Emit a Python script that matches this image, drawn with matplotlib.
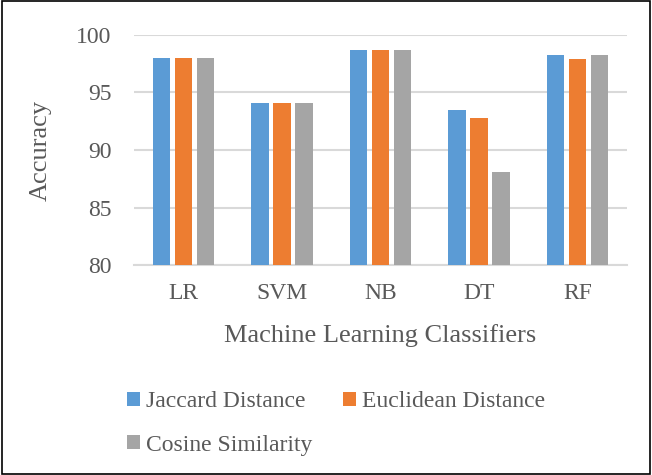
import matplotlib
matplotlib.use("Agg")

import numpy as np
import matplotlib.pyplot as plt
from matplotlib.patches import Rectangle

categorias = ["LR", "SVM", "NB", "DT", "RF"]
series = ["Jaccard Distance", "Euclidean Distance", "Cosine Similarity"]
jaccard = [98.0, 94.1, 98.7, 93.5, 98.2]
euclidean = [98.0, 94.1, 98.7, 92.8, 97.9]
cosine = [98.0, 94.1, 98.7, 88.1, 98.2]
colores = ["#5b9bd5", "#ed7d31", "#a5a5a5"]

plt.rcParams["font.family"] = ["Liberation Serif", "DejaVu Serif"]
gris = "#595959"

fig = plt.figure(figsize=(6.52, 4.75), dpi=100)
ax = fig.add_axes([134 / 652, 1 - 265.3 / 475, 493 / 652, 230.6 / 475])

x = np.arange(len(categorias))
ancho = 0.175
paso = 0.223
barras = []
for i, (vals, nombre) in enumerate(zip([jaccard, euclidean, cosine], series)):
    b = ax.bar(x + (i - 1) * paso, vals, ancho, color=colores[i], label=nombre, zorder=3)
    barras.append(b)

ax.set_xlim(-0.5, len(categorias) - 0.5)
ax.set_ylim(80, 100)
ax.set_yticks([80, 85, 90, 95, 100])
ax.set_xticks(x)
ax.set_xticklabels(categorias)
ax.tick_params(axis="both", length=0, labelsize=17, labelcolor=gris)
ax.tick_params(axis="x", pad=13)
ax.tick_params(axis="y", pad=16)
ax.grid(axis="y", color="#d9d9d9", linewidth=1.5, zorder=0)
for s in ["top", "right", "left"]:
    ax.spines[s].set_visible(False)
ax.spines["bottom"].set_color("#d9d9d9")
ax.spines["bottom"].set_linewidth(1.5)

ax.set_ylabel("Accuracy", fontsize=19, color=gris, labelpad=18)
ax.set_xlabel("Machine Learning Classifiers", fontsize=19, color=gris, labelpad=14)

# orden fila a fila: Jaccard, Euclidean / Cosine
orden = [0, 2, 1]
fig.legend([barras[i] for i in orden], [series[i] for i in orden],
           loc="upper left", bbox_to_anchor=(106 / 652, 1 - 370 / 475), ncol=2,
           frameon=False, fontsize=17, labelcolor=gris, handlelength=0.55,
           handleheight=0.55, handletextpad=0.25, columnspacing=1.3, labelspacing=0.95)

fig.patches.append(Rectangle((0.003, 0.003), 0.994, 0.994, transform=fig.transFigure,
                             fill=False, edgecolor="black", linewidth=1.2))

plt.savefig("out.png", dpi=100)
plt.close()
